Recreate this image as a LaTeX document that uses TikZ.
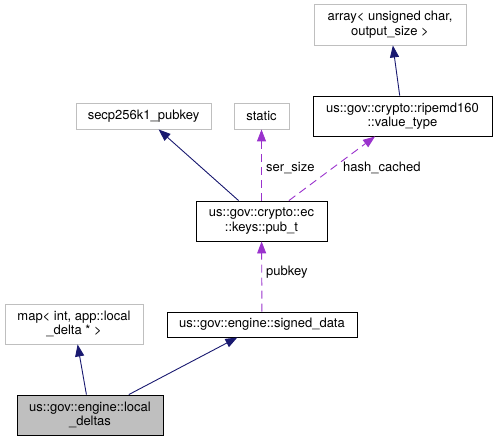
\documentclass[tikz,border=0pt]{standalone}
\usepackage{fontspec}
\setmainfont{TeX Gyre Heros}
\usetikzlibrary{arrows.meta}
\definecolor{edgeblue}{HTML}{191970}
\definecolor{edgepurple}{HTML}{9A32CD}
\definecolor{boxgrey}{HTML}{BFBFBF}
\tikzset{
	cls/.style={draw=black, line width=0.9pt, align=center, inner sep=0pt, font=\fontsize{13}{14.5}\selectfont},
	ext/.style={cls, draw=boxgrey},
	inherit/.style={draw=edgeblue, line width=0.9pt, -{Triangle[length=12pt,width=9pt]}},
	member/.style={draw=edgepurple, line width=0.9pt, dash pattern=on 8pt off 5pt, -{Triangle[length=12pt,width=9pt]}},
	lbl/.style={anchor=west, inner sep=0pt, font=\fontsize{13}{14.5}\selectfont}
}
\begin{document}
\begin{tikzpicture}[x=1pt,y=-1pt]
		\useasboundingbox (0,0) rectangle (496,441);
		% classes
		\node[ext, minimum width=152pt, minimum height=41pt] (array) at (390,24.5) {array< unsigned char,\\output\_size >};
		\node[cls, minimum width=179pt, minimum height=40pt] (ripemd) at (402.5,116) {us::gov::crypto::ripemd160\\::value\_type};
		\node[ext, minimum width=135pt, minimum height=26pt] (secp) at (143.5,116) {secp256k1\_pubkey};
		\node[ext, minimum width=55pt, minimum height=26pt] (static) at (261.5,116) {static};
		\node[cls, minimum width=131pt, minimum height=40pt] (pubt) at (261.5,221) {us::gov::crypto::ec\\::keys::pub\_t};
		\node[cls, minimum width=190pt, minimum height=25pt] (signed) at (262,324.5) {us::gov::engine::signed\_data};
		\node[ext, minimum width=138pt, minimum height=40pt] (map) at (74,324) {map< int, app::local\\\_delta * >};
		\node[cls, fill=boxgrey, minimum width=146pt, minimum height=40pt] (deltas) at (90,415) {us::gov::engine::local\\\_deltas};
		% edges
		\draw[inherit] (deltas) -- (map);
		\draw[inherit] (deltas) -- (signed);
		\draw[inherit] (pubt) -- (secp);
		\draw[inherit] (ripemd) -- (array);
		\draw[member] (signed) -- (pubt);
		\draw[member] (pubt) -- (static);
		\draw[member] (pubt) -- (ripemd);
		\node[lbl] (pubkeylbl) at (266,272) {pubkey};
		\node[lbl] (sersizelbl) at (266,168) {ser\_size};
		\node[lbl] (hashlbl) at (343,168) {hash\_cached};
		\end{tikzpicture}
\end{document}
